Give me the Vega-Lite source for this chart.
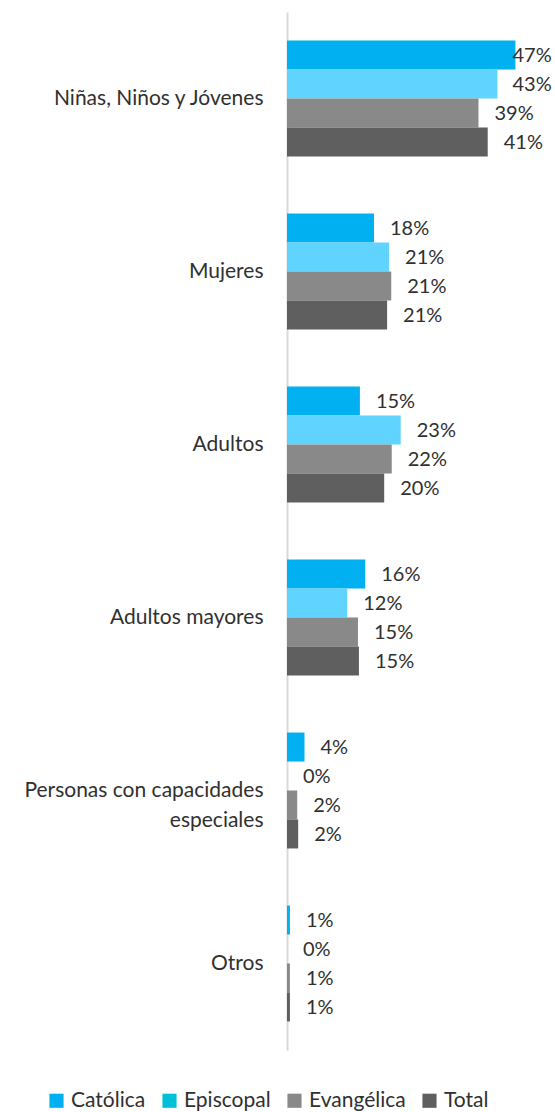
{
  "$schema": "https://vega.github.io/schema/vega-lite/v6.json",
  "width": 243,
  "height": 1038,
  "autosize": "none",
  "padding": {"left": 287, "top": 12, "right": 25, "bottom": 62},
  "background": "white",
  "config": {"view": {"stroke": null}, "font": "Lato"},
  "data": {"values": [
    {"cat": "Niñas, Niños y Jóvenes", "serie": "Católica", "v": 0.47},
    {"cat": "Niñas, Niños y Jóvenes", "serie": "Episcopal", "v": 0.433},
    {"cat": "Niñas, Niños y Jóvenes", "serie": "Evangélica", "v": 0.394},
    {"cat": "Niñas, Niños y Jóvenes", "serie": "Total", "v": 0.413},
    {"cat": "Mujeres", "serie": "Católica", "v": 0.179},
    {"cat": "Mujeres", "serie": "Episcopal", "v": 0.21},
    {"cat": "Mujeres", "serie": "Evangélica", "v": 0.2145},
    {"cat": "Mujeres", "serie": "Total", "v": 0.206},
    {"cat": "Adultos", "serie": "Católica", "v": 0.15},
    {"cat": "Adultos", "serie": "Episcopal", "v": 0.234},
    {"cat": "Adultos", "serie": "Evangélica", "v": 0.2155},
    {"cat": "Adultos", "serie": "Total", "v": 0.2},
    {"cat": "Adultos mayores", "serie": "Católica", "v": 0.161},
    {"cat": "Adultos mayores", "serie": "Episcopal", "v": 0.124},
    {"cat": "Adultos mayores", "serie": "Evangélica", "v": 0.146},
    {"cat": "Adultos mayores", "serie": "Total", "v": 0.148},
    {"cat": "Personas con capacidades especiales", "serie": "Católica", "v": 0.036},
    {"cat": "Personas con capacidades especiales", "serie": "Episcopal", "v": 0.0},
    {"cat": "Personas con capacidades especiales", "serie": "Evangélica", "v": 0.021},
    {"cat": "Personas con capacidades especiales", "serie": "Total", "v": 0.023},
    {"cat": "Otros", "serie": "Católica", "v": 0.006},
    {"cat": "Otros", "serie": "Episcopal", "v": 0.0},
    {"cat": "Otros", "serie": "Evangélica", "v": 0.006},
    {"cat": "Otros", "serie": "Total", "v": 0.006}
  ]},
  "encoding": {
    "y": {
      "field": "cat", "type": "nominal", "sort": null, "title": null,
      "scale": {"paddingInner": 0.33, "paddingOuter": 0.165},
      "axis": {
        "ticks": false, "labelPadding": 24, "domainColor": "#d9d9d9", "domainWidth": 2,
        "labelFontSize": 21, "labelFontWeight": 400, "labelColor": "#303030", "labelLimit": 400,
        "labelLineHeight": 30,
        "labelExpr": "datum.value == 'Personas con capacidades especiales' ? ['Personas con capacidades', 'especiales'] : datum.value"
      }
    },
    "yOffset": {"field": "serie", "type": "nominal", "sort": ["Católica", "Episcopal", "Evangélica", "Total"], "scale": {"paddingInner": 0}}
  },
  "layer": [
    {
      "mark": {"type": "bar"},
      "encoding": {
        "x": {"field": "v", "type": "quantitative", "scale": {"domain": [0, 0.5]}, "axis": null},
        "color": {
          "field": "serie", "type": "nominal", "sort": ["Católica", "Episcopal", "Evangélica", "Total"],
          "scale": {"domain": ["Católica", "Episcopal", "Evangélica", "Total"], "range": ["#00B0F0", "#60D4FF", "#898989", "#5F5F5F"]},
          "legend": null
        }
      }
    },
    {
      "mark": {"type": "bar"},
      "encoding": {
        "x": {"datum": 0, "type": "quantitative"},
        "color": {
          "field": "serie", "type": "nominal", "sort": ["Católica", "Episcopal", "Evangélica", "Total"],
          "scale": {"domain": ["Católica", "Episcopal", "Evangélica", "Total"], "range": ["#00B0F0", "#00C0D8", "#898989", "#5F5F5F"]},
          "legend": {
            "title": null, "orient": "none", "direction": "horizontal",
            "legendX": -241, "legendY": 1078,
            "symbolType": "square", "symbolSize": 200, "symbolStrokeWidth": 0,
            "labelFontSize": 21, "labelFontWeight": 400, "labelColor": "#303030", "labelOffset": 4, "columnPadding": 13
          }
        }
      }
    },
    {
      "transform": [{"calculate": "min(datum.v, 0.431)", "as": "lx"}],
      "mark": {"type": "text", "align": "left", "baseline": "middle", "dx": 16, "dy": 1, "fontSize": 20, "fontWeight": 400, "color": "#303030"},
      "encoding": {
        "x": {"field": "lx", "type": "quantitative"},
        "text": {"field": "v", "type": "quantitative", "format": ".0%"}
      }
    }
  ],
  "resolve": {"scale": {"color": "independent"}}
}
